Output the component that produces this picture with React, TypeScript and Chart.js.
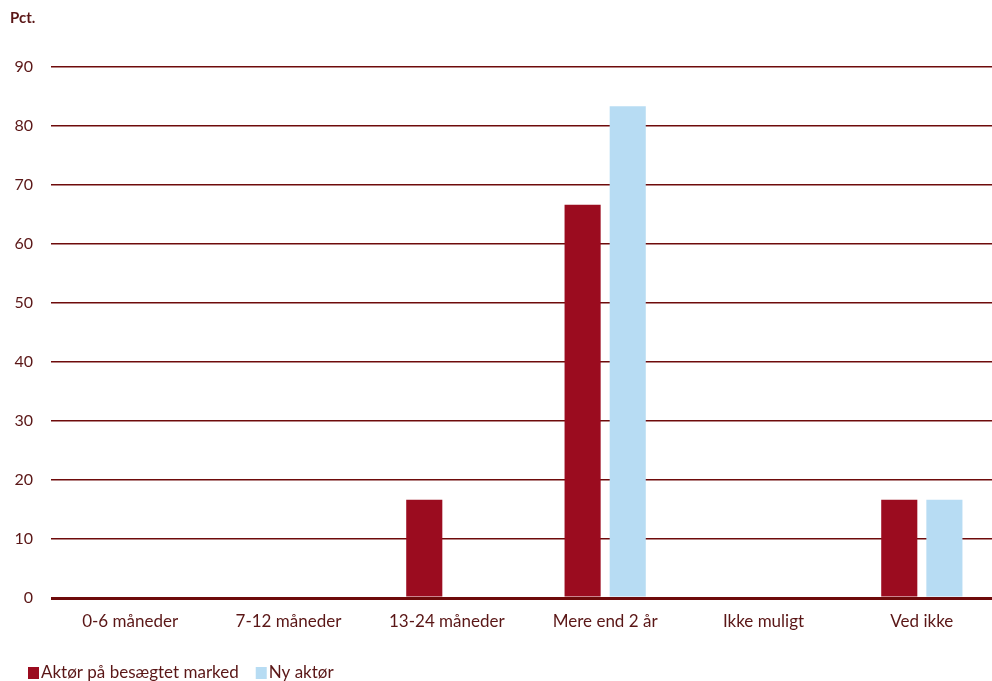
import React, { useEffect, useRef } from "react";
import { Chart, registerables } from "chart.js";

Chart.register(...registerables);

const categories = ["0-6 måneder", "7-12 måneder", "13-24 måneder", "Mere end 2 år", "Ikke muligt", "Ved ikke"];
const seriesAktoer = [0, 0, 16.67, 66.67, 0, 16.67];
const seriesNy = [0, 0, 0, 83.33, 0, 16.67];
const seriesNames = ["Aktør på besægtet marked", "Ny aktør"];
const yTicks = [0, 10, 20, 30, 40, 50, 60, 70, 80, 90];
const yTitle = "Pct.";

const RED = "#9b0c1f";
const BLUE = "#b7dcf3";
const GRID = "#6e0b0b";
const TEXT = "#5a1616";
const FONT = "Lato, 'Open Sans', sans-serif";

export default function App() {
  const ref = useRef<HTMLCanvasElement>(null);
  useEffect(() => {
    const canvas = ref.current!;
    const extras = {
      id: "extras",
      afterDraw(chart: any) {
        const ctx = chart.ctx;
        ctx.save();
        ctx.fillStyle = TEXT;
        ctx.font = `bold 15px ${FONT}`;
        ctx.textBaseline = "middle";
        ctx.textAlign = "left";
        ctx.fillText(yTitle, 10, 18);
        // legend
        ctx.font = `17px ${FONT}`;
        let x = 28;
        const y = 673;
        chart.data.datasets.forEach((ds: any) => {
          ctx.fillStyle = ds.backgroundColor;
          ctx.fillRect(x, y - 6, 11, 12);
          x += 13;
          ctx.fillStyle = TEXT;
          ctx.fillText(ds.label, x, y);
          x += ctx.measureText(ds.label).width + 17;
        });
        ctx.restore();
      },
    };
    const chart = new Chart(canvas, {
      type: "bar",
      data: {
        labels: categories,
        datasets: [
          { label: seriesNames[0], data: seriesAktoer, backgroundColor: RED, categoryPercentage: 0.57, barPercentage: 0.8 },
          { label: seriesNames[1], data: seriesNy, backgroundColor: BLUE, categoryPercentage: 0.57, barPercentage: 0.8 },
        ],
      },
      options: {
        responsive: false,
        animation: false,
        layout: { padding: { top: 67, right: 9, left: 0, bottom: 0 } },
        plugins: { legend: { display: false }, tooltip: { enabled: false }, title: { display: false } },
        scales: {
          x: {
            grid: { display: false, drawTicks: false },
            border: { display: false },
            ticks: { color: TEXT, font: { family: FONT, size: 17 }, padding: 13, maxRotation: 0, autoSkip: false },
            afterFit: (s: any) => { s.height = 83; },
          },
          y: {
            min: 0,
            max: 90,
            afterBuildTicks: (s: any) => { s.ticks = yTicks.map((v) => ({ value: v })); },
            grid: {
              color: GRID,
              lineWidth: (c: any) => (c.tick && c.tick.value === 0 ? 3 : 1.6),
              drawTicks: false,
            },
            border: { display: false },
            ticks: { color: TEXT, font: { family: FONT, size: 16 }, padding: 18 },
            afterFit: (s: any) => { s.width = 51; },
          },
        },
      },
      plugins: [extras],
    });
    return () => chart.destroy();
  }, []);
  return (
    <div style={{ position: "fixed", left: 0, top: 0, width: 1010, height: 681, overflow: "hidden", background: "#fff" }}>
      <canvas ref={ref} width={1010} height={681} style={{ display: "block" }} />
    </div>
  );
}
